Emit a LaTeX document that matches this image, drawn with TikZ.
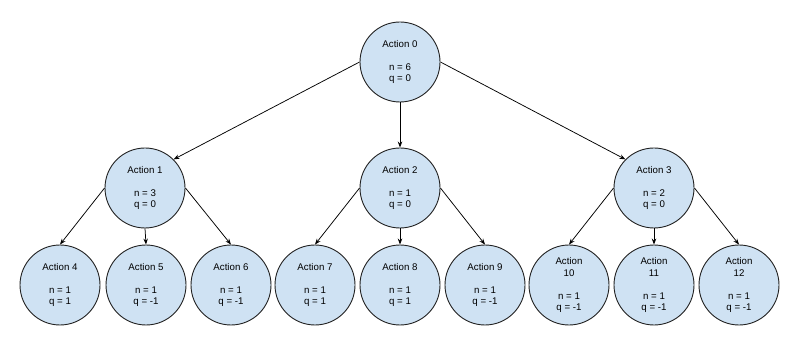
\documentclass[tikz,border=0pt]{standalone}
\usepackage{fontspec}
\setmainfont{Liberation Sans}
\usetikzlibrary{arrows.meta}
\definecolor{nodefill}{HTML}{CFE2F3}
\definecolor{edgecol}{HTML}{222222}
\tikzset{
  act/.style={circle, draw=edgecol, line width=0.9pt, fill=nodefill,
    minimum size=80pt, inner sep=0pt, align=center,
    font=\fontsize{9.7}{11.5}\selectfont},
  link/.style={draw=black, line width=0.75pt, -{Stealth[length=6pt,width=4.5pt]}}
}
\begin{document}
\begin{tikzpicture}[x=1pt,y=-1pt]
\useasboundingbox (0,0) rectangle (800,347);
\node[act] (a0) at (400,62) {Action 0\\[11.5pt]n = 6\\q = 0};
\node[act] (a1) at (145,188) {Action 1\\[11.5pt]n = 3\\q = 0};
\node[act] (a2) at (400,188) {Action 2\\[11.5pt]n = 1\\q = 0};
\node[act] (a3) at (654,188) {Action 3\\[11.5pt]n = 2\\q = 0};
\node[act] (a4) at (60,285) {Action 4\\[11.5pt]n = 1\\q = 1};
\node[act] (a5) at (146,285) {Action 5\\[11.5pt]n = 1\\q = -1};
\node[act] (a6) at (231,285) {Action 6\\[11.5pt]n = 1\\q = -1};
\node[act] (a7) at (315,285) {Action 7\\[11.5pt]n = 1\\q = 1};
\node[act] (a8) at (400,285) {Action 8\\[11.5pt]n = 1\\q = 1};
\node[act] (a9) at (485,285) {Action 9\\[11.5pt]n = 1\\q = -1};
\node[act] (a10) at (569,285) {Action\\10\\[11.5pt]n = 1\\q = -1};
\node[act] (a11) at (654,285) {Action\\11\\[11.5pt]n = 1\\q = -1};
\node[act] (a12) at (739,285) {Action\\12\\[11.5pt]n = 1\\q = -1};
\path[link] (a0.west) -- (a1.north east);
\path[link] (a0.south) -- (a2.north);
\path[link] (a0.east) -- (a3.north west);
\path[link] (a1.west) -- (a4.north);
\path[link] (a1.south) -- (a5.north);
\path[link] (a1.east) -- (a6.north);
\path[link] (a2.west) -- (a7.north);
\path[link] (a2.south) -- (a8.north);
\path[link] (a2.east) -- (a9.north);
\path[link] (a3.west) -- (a10.north);
\path[link] (a3.south) -- (a11.north);
\path[link] (a3.east) -- (a12.north);
\end{tikzpicture}
\end{document}
